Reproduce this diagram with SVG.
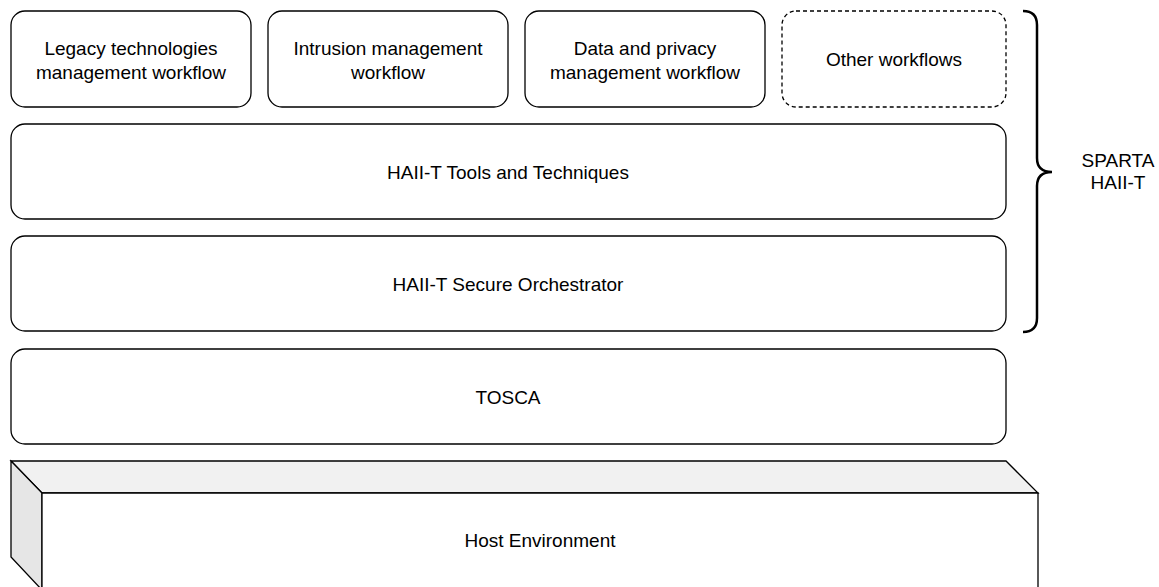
<svg xmlns="http://www.w3.org/2000/svg" width="1159" height="587" viewBox="0 0 1159 587">
<style>
.box{fill:#fff;stroke:#000;stroke-width:1.3}
.dash{fill:#fff;stroke:#000;stroke-width:1.3;stroke-dasharray:4 3}
.t{font-family:"Liberation Sans",Arial,sans-serif;font-size:19px;fill:#000;text-anchor:middle}
</style>
<rect width="1159" height="587" fill="#fff"/>
<g id="legacy"><rect class="box" x="11" y="11" width="240" height="96" rx="14"/><text class="t" x="131" y="55">Legacy technologies</text><text class="t" x="131" y="79">management workflow</text></g>
<g id="intrusion"><rect class="box" x="268" y="11" width="240" height="96" rx="14"/><text class="t" x="388" y="55">Intrusion management</text><text class="t" x="388" y="79">workflow</text></g>
<g id="data"><rect class="box" x="525" y="11" width="240" height="96" rx="14"/><text class="t" x="645" y="55">Data and privacy</text><text class="t" x="645" y="79">management workflow</text></g>
<g id="other"><rect class="dash" x="782" y="11" width="224" height="96" rx="14"/><text class="t" x="894" y="66">Other workflows</text></g>
<g id="tools"><rect class="box" x="11" y="124" width="995" height="95" rx="14"/><text class="t" x="508" y="179">HAII-T Tools and Techniques</text></g>
<g id="orchestrator"><rect class="box" x="11" y="236" width="995" height="95" rx="14"/><text class="t" x="508" y="291">HAII-T Secure Orchestrator</text></g>
<g id="tosca"><rect class="box" x="11" y="349" width="995" height="95" rx="14"/><text class="t" x="508" y="404">TOSCA</text></g>
<g id="host">
<polygon points="11,461 1006,461 1038,493 42,493" fill="#f1f1f1" stroke="#000" stroke-width="1.3"/>
<polygon points="11,461 42,493 42,590 11,557" fill="#e6e6e6" stroke="#000" stroke-width="1.3"/>
<polygon points="42,493 1038,493 1038,600 42,600" fill="#fff" stroke="#000" stroke-width="1.3"/>
<text class="t" x="540" y="547">Host Environment</text>
</g>
<g id="sparta">
<path d="M1023,11 Q1037,11 1037,25 L1037,158 Q1037,172 1052,172 Q1037,172 1037,186 L1037,318 Q1037,332 1023,332" fill="none" stroke="#000" stroke-width="2.5"/>
<text class="t" x="1118" y="167">SPARTA</text><text class="t" x="1118" y="189">HAII-T</text>
</g>
<g id="connectors"/>
</svg>
